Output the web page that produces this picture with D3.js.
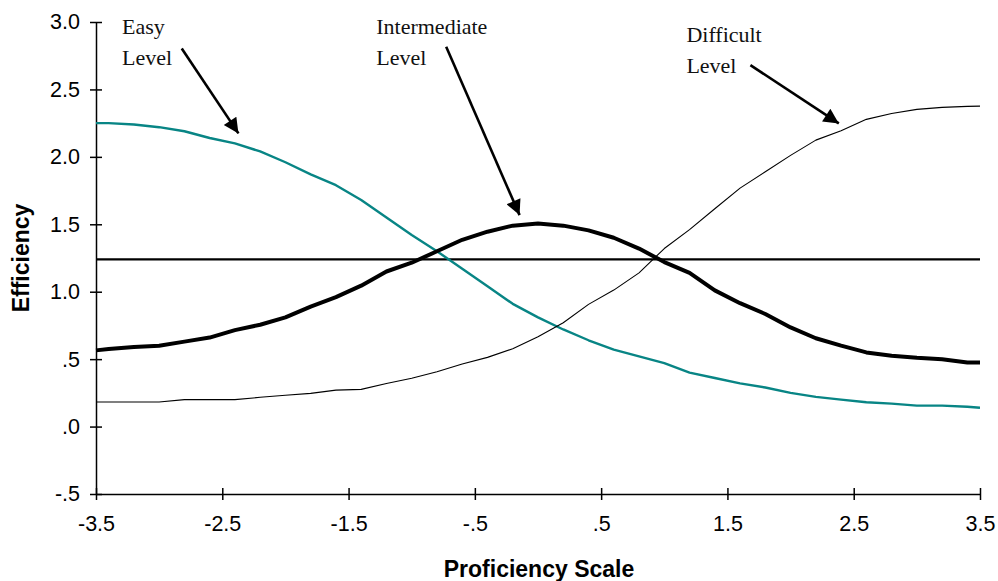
<!DOCTYPE html>
<html>
<head>
<meta charset="utf-8">
<script src="https://cdn.jsdelivr.net/npm/d3@7"></script>
<style>
  html, body { margin: 0; padding: 0; background: #fff; }
  svg { display: block; }
</style>
</head>
<body>
<svg id="chart" width="998" height="581"></svg>
<script>
// Proficiency points on the horizontal scale
const proficiency = [-3.5, -3.4, -3.2, -3.0, -2.8, -2.6, -2.4, -2.2, -2.0, -1.8, -1.6, -1.4, -1.2,
  -1.0, -0.8, -0.6, -0.4, -0.2, 0.0, 0.2, 0.4, 0.6, 0.8, 1.0, 1.2, 1.4, 1.6, 1.8, 2.0,
  2.2, 2.4, 2.6, 2.8, 3.0, 3.2, 3.4, 3.5];

// Efficiency of each test level
const easyLevel = [2.25, 2.25, 2.24, 2.22, 2.19, 2.14, 2.10, 2.04, 1.96, 1.87, 1.79, 1.68, 1.55,
  1.42, 1.30, 1.17, 1.04, 0.91, 0.81, 0.72, 0.64, 0.57, 0.52, 0.47, 0.40, 0.36, 0.32, 0.29, 0.25,
  0.22, 0.20, 0.18, 0.17, 0.155, 0.155, 0.147, 0.14];

const intermediateLevel = [0.565, 0.575, 0.59, 0.60, 0.63, 0.66, 0.715, 0.755, 0.81, 0.89, 0.96, 1.045, 1.15,
  1.215, 1.30, 1.385, 1.445, 1.49, 1.505, 1.49, 1.455, 1.40, 1.32, 1.22, 1.14, 1.01, 0.915, 0.835, 0.735,
  0.655, 0.60, 0.55, 0.525, 0.51, 0.50, 0.475, 0.475];

const difficultLevel = [0.182, 0.182, 0.182, 0.182, 0.20, 0.20, 0.20, 0.217, 0.232, 0.246, 0.27, 0.276, 0.32,
  0.358, 0.407, 0.464, 0.513, 0.577, 0.666, 0.77, 0.906, 1.012, 1.14, 1.32, 1.46, 1.615, 1.768, 1.889, 2.011,
  2.124, 2.193, 2.278, 2.322, 2.352, 2.367, 2.374, 2.376];

// Reference efficiency level drawn as a horizontal rule
const referenceEfficiency = 1.24;

const xTicks = [-3.5, -2.5, -1.5, -0.5, 0.5, 1.5, 2.5, 3.5];
const xTickLabels = ["-3.5", "-2.5", "-1.5", "-.5", ".5", "1.5", "2.5", "3.5"];
const yTicks = [-0.5, 0.0, 0.5, 1.0, 1.5, 2.0, 2.5, 3.0];
const yTickLabels = ["-.5", ".0", ".5", "1.0", "1.5", "2.0", "2.5", "3.0"];

// Callout labels and their arrows (data units)
const calloutLines = [["Easy", "Level"], ["Intermediate", "Level"], ["Difficult", "Level"]];
const calloutAt = [[-3.294, 2.91], [-1.281, 2.91], [1.175, 2.85]];
const arrowFrom = [[-2.821, 2.804], [-0.727, 2.816], [1.682, 2.680]];
const arrowTo = [[-2.372, 2.174], [-0.146, 1.568], [2.382, 2.248]];

const svg = d3.select("#chart");
const margin = { left: 96, right: 18, top: 22, bottom: 87 };
const W = 998, H = 581;
const sans = "'Liberation Sans', Arial, sans-serif";

const x = d3.scaleLinear().domain([-3.5, 3.5]).range([margin.left, W - margin.right]);
const y = d3.scaleLinear().domain([-0.5, 3.0]).range([H - margin.bottom, margin.top]);

// Arrowhead marker
svg.append("defs").append("marker")
  .attr("id", "head")
  .attr("viewBox", "0 0 10 10")
  .attr("refX", 10).attr("refY", 5)
  .attr("markerWidth", 7.5).attr("markerHeight", 5.8)
  .attr("markerUnits", "strokeWidth")
  .attr("orient", "auto")
  .append("path").attr("d", "M0,0 L10,5 L0,10 Z").attr("fill", "#000");

// Axes
const xAxis = d3.axisBottom(x).tickValues(xTicks)
  .tickFormat((d, i) => xTickLabels[i]).tickSizeInner(6).tickSizeOuter(0).tickPadding(16);
const yAxis = d3.axisLeft(y).tickValues(yTicks)
  .tickFormat((d, i) => yTickLabels[i]).tickSizeInner(6).tickSizeOuter(0).tickPadding(10);

const gx = svg.append("g").attr("transform", `translate(0,${y(-0.5)})`).call(xAxis);
const gy = svg.append("g").attr("transform", `translate(${x(-3.5)},0)`).call(yAxis);

[gx, gy].forEach(g => {
  g.select(".domain").attr("stroke", "#000").attr("stroke-width", 1.5);
  g.selectAll(".tick line").attr("stroke", "#000").attr("stroke-width", 1.5);
  g.selectAll(".tick text")
    .attr("fill", "#000")
    .style("font-family", sans)
    .style("font-size", "21.5px");
});
// ticks cross the axis lines
gx.selectAll(".tick line").attr("y1", -6).attr("y2", 6);
gy.selectAll(".tick line").attr("x1", -6).attr("x2", 6);

// Axis titles
svg.append("text")
  .attr("x", (x(-3.5) + x(3.5)) / 2 + 1).attr("y", 577)
  .attr("text-anchor", "middle")
  .style("font-family", sans)
  .style("font-size", "23px").style("font-weight", "bold")
  .text("Proficiency Scale");

svg.append("text")
  .attr("transform", `translate(29,${(y(-0.5) + y(3.0)) / 2}) rotate(-90)`)
  .attr("text-anchor", "middle")
  .style("font-family", sans)
  .style("font-size", "23px").style("font-weight", "bold")
  .text("Efficiency");

// Reference rule
svg.append("line")
  .attr("x1", x(-3.5)).attr("x2", x(3.5))
  .attr("y1", y(referenceEfficiency)).attr("y2", y(referenceEfficiency))
  .attr("stroke", "#000").attr("stroke-width", 2.4);

// Efficiency curves
const curve = vals => d3.line()
  .x((d, i) => x(proficiency[i]))
  .y(d => y(d))(vals);

svg.append("path").attr("d", curve(easyLevel))
  .attr("fill", "none").attr("stroke", "#088585").attr("stroke-width", 2.4)
  .attr("stroke-linejoin", "round");
svg.append("path").attr("d", curve(difficultLevel))
  .attr("fill", "none").attr("stroke", "#000").attr("stroke-width", 1.1)
  .attr("stroke-linejoin", "round");
svg.append("path").attr("d", curve(intermediateLevel))
  .attr("fill", "none").attr("stroke", "#000").attr("stroke-width", 4)
  .attr("stroke-linejoin", "round");

// Callouts
calloutLines.forEach((lines, i) => {
  const t = svg.append("text")
    .attr("x", x(calloutAt[i][0])).attr("y", y(calloutAt[i][1]))
    .style("font-family", "'Liberation Serif', 'Times New Roman', serif")
    .style("font-size", "22px").attr("fill", "#111");
  lines.forEach((s, j) => {
    t.append("tspan").attr("x", x(calloutAt[i][0])).attr("dy", j === 0 ? 0 : 31).text(s);
  });
  svg.append("line")
    .attr("x1", x(arrowFrom[i][0])).attr("y1", y(arrowFrom[i][1]))
    .attr("x2", x(arrowTo[i][0])).attr("y2", y(arrowTo[i][1]))
    .attr("stroke", "#000").attr("stroke-width", 2.6)
    .attr("marker-end", "url(#head)");
});
</script>
</body>
</html>
